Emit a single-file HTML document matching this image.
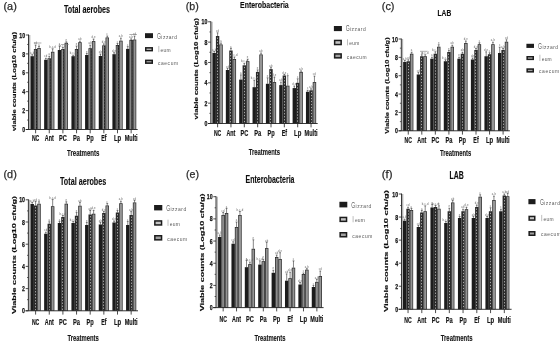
<!DOCTYPE html>
<html><head><meta charset="utf-8"><style>
html,body{margin:0;padding:0;background:#fff;width:560px;height:353px;overflow:hidden}
svg{display:block;will-change:transform}
text{font-family:"Liberation Sans",sans-serif}
.tag{font-size:11px;fill:#2a2a2a;stroke:#2a2a2a;stroke-width:0.25}
.title{font-weight:bold;font-size:9.6px;fill:#111;stroke:#111;stroke-width:0.15}
.cat{font-weight:bold;font-size:8.4px;fill:#151515;stroke:#151515;stroke-width:0.18}
.treat{font-weight:bold;font-size:9px;fill:#151515;stroke:#151515;stroke-width:0.12}
.ylab{font-weight:bold;font-size:6.6px;fill:#111;stroke:#111;stroke-width:0.15}
.tick{font-weight:bold;font-size:7.2px;fill:#111;stroke:#111;stroke-width:0.25}
.leg{font-size:4.9px;fill:#5a5a5a}
.legcap{font-size:8.6px;fill:#6a6a6a}
.sig{font-size:2.7px;fill:#666;text-anchor:middle;letter-spacing:0.2px}
</style></head><body>
<svg width="560" height="353" viewBox="0 0 560 353">
<defs><filter id="bl" x="0" y="0" width="560" height="353" filterUnits="userSpaceOnUse"><feGaussianBlur stdDeviation="0.28"/></filter></defs>
<rect width="560" height="353" fill="#fff"/>
<g filter="url(#bl)">
<text x="3.5" y="9.5" class="tag" textLength="13.3" lengthAdjust="spacingAndGlyphs">(a)</text>
<text x="64" y="12.6" class="title" style="font-size:10.3px" textLength="46" lengthAdjust="spacingAndGlyphs">Total aerobes</text>
<rect x="28.95" y="35" width="1.4" height="94.5" fill="#b4b4b4"/>
<rect x="30.5" y="56.2" width="3.4" height="73.3" fill="#1b1b1b"/>
<rect x="33.9" y="49" width="3.4" height="80.5" fill="#222"/>
<rect x="34.5" y="49.65" width="1.3" height="79.85" fill="#8c8c8c"/>
<line x1="36.4" y1="50.6" x2="36.4" y2="129.5" stroke="#5a5a5a" stroke-width="0.6" stroke-dasharray="1.2 1.8"/>
<rect x="37.3" y="48" width="3.4" height="81.5" fill="#222"/>
<rect x="37.95" y="48.65" width="2.1" height="80.85" fill="#959595"/>
<path d="M32.2 56.2V54.7M31.3 54.7H33.1" stroke="#222" stroke-width="0.55" fill="none"/>
<text x="32.2" y="53.8" class="sig">a,b</text>
<path d="M35.6 49V45M34.7 45H36.5" stroke="#222" stroke-width="0.55" fill="none"/>
<text x="35.6" y="44.1" class="sig">cd</text>
<path d="M39 48V46.5M38.1 46.5H39.9" stroke="#222" stroke-width="0.55" fill="none"/>
<text x="39" y="45.6" class="sig">a</text>
<line x1="35.6" y1="129.5" x2="35.6" y2="133.3" stroke="#222" stroke-width="0.8"/>
<text x="31.9" y="141.1" class="cat" textLength="7.4" lengthAdjust="spacingAndGlyphs">NC</text>
<rect x="44.15" y="59.8" width="3.4" height="69.7" fill="#1b1b1b"/>
<rect x="47.55" y="58.3" width="3.4" height="71.2" fill="#222"/>
<rect x="48.15" y="58.95" width="1.3" height="70.55" fill="#8c8c8c"/>
<line x1="50.05" y1="59.9" x2="50.05" y2="129.5" stroke="#5a5a5a" stroke-width="0.6" stroke-dasharray="1.2 1.8"/>
<rect x="50.95" y="51.8" width="3.4" height="77.7" fill="#222"/>
<rect x="51.6" y="52.45" width="2.1" height="77.05" fill="#959595"/>
<path d="M45.85 59.8V58.3M44.95 58.3H46.75" stroke="#222" stroke-width="0.55" fill="none"/>
<text x="45.85" y="57.4" class="sig">cd</text>
<path d="M49.25 58.3V56.3M48.35 56.3H50.15" stroke="#222" stroke-width="0.55" fill="none"/>
<text x="49.25" y="55.4" class="sig">a</text>
<path d="M52.65 51.8V48.8M51.75 48.8H53.55" stroke="#222" stroke-width="0.55" fill="none"/>
<text x="52.65" y="47.9" class="sig">b,c,d</text>
<line x1="49.25" y1="129.5" x2="49.25" y2="133.3" stroke="#222" stroke-width="0.8"/>
<text x="44.8" y="141.1" class="cat" textLength="8.9" lengthAdjust="spacingAndGlyphs">Ant</text>
<rect x="57.8" y="50" width="3.4" height="79.5" fill="#1b1b1b"/>
<rect x="61.2" y="49" width="3.4" height="80.5" fill="#222"/>
<rect x="61.8" y="49.65" width="1.3" height="79.85" fill="#8c8c8c"/>
<line x1="63.7" y1="50.6" x2="63.7" y2="129.5" stroke="#5a5a5a" stroke-width="0.6" stroke-dasharray="1.2 1.8"/>
<rect x="64.6" y="42.8" width="3.4" height="86.7" fill="#222"/>
<rect x="65.25" y="43.45" width="2.1" height="86.05" fill="#959595"/>
<path d="M59.5 50V46M58.6 46H60.4" stroke="#222" stroke-width="0.55" fill="none"/>
<text x="59.5" y="45.1" class="sig">a</text>
<path d="M62.9 49V47.5M62 47.5H63.8" stroke="#222" stroke-width="0.55" fill="none"/>
<text x="62.9" y="46.6" class="sig">b,c,d</text>
<path d="M66.3 42.8V41.8M65.4 41.8H67.2" stroke="#222" stroke-width="0.55" fill="none"/>
<text x="66.3" y="40.9" class="sig">e</text>
<line x1="62.9" y1="129.5" x2="62.9" y2="133.3" stroke="#222" stroke-width="0.8"/>
<text x="59" y="141.1" class="cat" textLength="7.8" lengthAdjust="spacingAndGlyphs">PC</text>
<rect x="71.45" y="56.2" width="3.4" height="73.3" fill="#1b1b1b"/>
<rect x="74.85" y="49" width="3.4" height="80.5" fill="#222"/>
<rect x="75.45" y="49.65" width="1.3" height="79.85" fill="#8c8c8c"/>
<line x1="77.35" y1="50.6" x2="77.35" y2="129.5" stroke="#5a5a5a" stroke-width="0.6" stroke-dasharray="1.2 1.8"/>
<rect x="78.25" y="42.2" width="3.4" height="87.3" fill="#222"/>
<rect x="78.9" y="42.85" width="2.1" height="86.65" fill="#959595"/>
<path d="M73.15 56.2V55.2M72.25 55.2H74.05" stroke="#222" stroke-width="0.55" fill="none"/>
<text x="73.15" y="54.3" class="sig">b,c,d</text>
<path d="M76.55 49V46M75.65 46H77.45" stroke="#222" stroke-width="0.55" fill="none"/>
<text x="76.55" y="45.1" class="sig">e</text>
<path d="M79.95 42.2V41.2M79.05 41.2H80.85" stroke="#222" stroke-width="0.55" fill="none"/>
<text x="79.95" y="40.3" class="sig">ab</text>
<line x1="76.55" y1="129.5" x2="76.55" y2="133.3" stroke="#222" stroke-width="0.8"/>
<text x="73.05" y="141.1" class="cat" textLength="7" lengthAdjust="spacingAndGlyphs">Pa</text>
<rect x="85.1" y="55" width="3.4" height="74.5" fill="#1b1b1b"/>
<rect x="88.5" y="48.2" width="3.4" height="81.3" fill="#222"/>
<rect x="89.1" y="48.85" width="1.3" height="80.65" fill="#8c8c8c"/>
<line x1="91" y1="49.8" x2="91" y2="129.5" stroke="#5a5a5a" stroke-width="0.6" stroke-dasharray="1.2 1.8"/>
<rect x="91.9" y="41.1" width="3.4" height="88.4" fill="#222"/>
<rect x="92.55" y="41.75" width="2.1" height="87.75" fill="#959595"/>
<path d="M86.8 55V53.5M85.9 53.5H87.7" stroke="#222" stroke-width="0.55" fill="none"/>
<text x="86.8" y="52.6" class="sig">e</text>
<path d="M90.2 48.2V45.2M89.3 45.2H91.1" stroke="#222" stroke-width="0.55" fill="none"/>
<text x="90.2" y="44.3" class="sig">ab</text>
<path d="M93.6 41.1V39.1M92.7 39.1H94.5" stroke="#222" stroke-width="0.55" fill="none"/>
<text x="93.6" y="38.2" class="sig">d,e</text>
<line x1="90.2" y1="129.5" x2="90.2" y2="133.3" stroke="#222" stroke-width="0.8"/>
<text x="86.6" y="141.1" class="cat" textLength="7.2" lengthAdjust="spacingAndGlyphs">Pp</text>
<rect x="98.75" y="56" width="3.4" height="73.5" fill="#1b1b1b"/>
<rect x="102.15" y="45.4" width="3.4" height="84.1" fill="#222"/>
<rect x="102.75" y="46.05" width="1.3" height="83.45" fill="#8c8c8c"/>
<line x1="104.65" y1="47" x2="104.65" y2="129.5" stroke="#5a5a5a" stroke-width="0.6" stroke-dasharray="1.2 1.8"/>
<rect x="105.55" y="37.5" width="3.4" height="92" fill="#222"/>
<rect x="106.2" y="38.15" width="2.1" height="91.35" fill="#959595"/>
<path d="M100.45 56V54M99.55 54H101.35" stroke="#222" stroke-width="0.55" fill="none"/>
<text x="100.45" y="53.1" class="sig">ab</text>
<path d="M103.85 45.4V43.9M102.95 43.9H104.75" stroke="#222" stroke-width="0.55" fill="none"/>
<text x="103.85" y="43" class="sig">d,e</text>
<path d="M107.25 37.5V36M106.35 36H108.15" stroke="#222" stroke-width="0.55" fill="none"/>
<text x="107.25" y="35.1" class="sig">c</text>
<line x1="103.85" y1="129.5" x2="103.85" y2="133.3" stroke="#222" stroke-width="0.8"/>
<text x="101.2" y="141.1" class="cat" textLength="5.3" lengthAdjust="spacingAndGlyphs">Ef</text>
<rect x="112.4" y="54.2" width="3.4" height="75.3" fill="#1b1b1b"/>
<rect x="115.8" y="45" width="3.4" height="84.5" fill="#222"/>
<rect x="116.4" y="45.65" width="1.3" height="83.85" fill="#8c8c8c"/>
<line x1="118.3" y1="46.6" x2="118.3" y2="129.5" stroke="#5a5a5a" stroke-width="0.6" stroke-dasharray="1.2 1.8"/>
<rect x="119.2" y="40.7" width="3.4" height="88.8" fill="#222"/>
<rect x="119.85" y="41.35" width="2.1" height="88.15" fill="#959595"/>
<path d="M114.1 54.2V52.7M113.2 52.7H115" stroke="#222" stroke-width="0.55" fill="none"/>
<text x="114.1" y="51.8" class="sig">d,e</text>
<path d="M117.5 45V43.5M116.6 43.5H118.4" stroke="#222" stroke-width="0.55" fill="none"/>
<text x="117.5" y="42.6" class="sig">c</text>
<path d="M120.9 40.7V38.2M120 38.2H121.8" stroke="#222" stroke-width="0.55" fill="none"/>
<text x="120.9" y="37.3" class="sig">a,b</text>
<line x1="117.5" y1="129.5" x2="117.5" y2="133.3" stroke="#222" stroke-width="0.8"/>
<text x="113.9" y="141.1" class="cat" textLength="7.2" lengthAdjust="spacingAndGlyphs">Lp</text>
<rect x="126.05" y="48.9" width="3.4" height="80.6" fill="#1b1b1b"/>
<rect x="129.45" y="39.9" width="3.4" height="89.6" fill="#222"/>
<rect x="130.05" y="40.55" width="1.3" height="88.95" fill="#8c8c8c"/>
<line x1="131.95" y1="41.5" x2="131.95" y2="129.5" stroke="#5a5a5a" stroke-width="0.6" stroke-dasharray="1.2 1.8"/>
<rect x="132.85" y="39.6" width="3.4" height="89.9" fill="#222"/>
<rect x="133.5" y="40.25" width="2.1" height="89.25" fill="#959595"/>
<path d="M127.75 48.9V46.6M126.85 46.6H128.65" stroke="#222" stroke-width="0.55" fill="none"/>
<text x="127.75" y="45.7" class="sig">c</text>
<path d="M131.15 39.9V38.9M130.25 38.9H132.05" stroke="#222" stroke-width="0.55" fill="none"/>
<text x="131.15" y="38" class="sig">a,b</text>
<path d="M134.55 39.6V36.1M133.65 36.1H135.45" stroke="#222" stroke-width="0.55" fill="none"/>
<text x="134.55" y="35.2" class="sig">cd</text>
<line x1="131.15" y1="129.5" x2="131.15" y2="133.3" stroke="#222" stroke-width="0.8"/>
<text x="124.65" y="141.1" class="cat" textLength="13" lengthAdjust="spacingAndGlyphs">Multi</text>
<line x1="33.8" y1="43" x2="41.4" y2="43" stroke="#777" stroke-width="0.6"/>
<line x1="61.1" y1="44.5" x2="68.7" y2="44.5" stroke="#777" stroke-width="0.6"/>
<line x1="129.35" y1="34.5" x2="136.95" y2="34.5" stroke="#777" stroke-width="0.6"/>
<line x1="28.5" y1="34.5" x2="28.5" y2="129.5" stroke="#222" stroke-width="0.9"/>
<line x1="25.8" y1="129.5" x2="137.7" y2="129.5" stroke="#222" stroke-width="0.9"/>
<line x1="25.8" y1="129.5" x2="28.5" y2="129.5" stroke="#222" stroke-width="0.8"/>
<text x="22.2" y="132.1" class="tick" textLength="2.9" lengthAdjust="spacingAndGlyphs">0</text>
<line x1="27.1" y1="120.05" x2="28.5" y2="120.05" stroke="#222" stroke-width="0.7"/>
<line x1="25.8" y1="110.6" x2="28.5" y2="110.6" stroke="#222" stroke-width="0.8"/>
<text x="22.2" y="113.2" class="tick" textLength="2.9" lengthAdjust="spacingAndGlyphs">2</text>
<line x1="27.1" y1="101.15" x2="28.5" y2="101.15" stroke="#222" stroke-width="0.7"/>
<line x1="25.8" y1="91.7" x2="28.5" y2="91.7" stroke="#222" stroke-width="0.8"/>
<text x="22.2" y="94.3" class="tick" textLength="2.9" lengthAdjust="spacingAndGlyphs">4</text>
<line x1="27.1" y1="82.25" x2="28.5" y2="82.25" stroke="#222" stroke-width="0.7"/>
<line x1="25.8" y1="72.8" x2="28.5" y2="72.8" stroke="#222" stroke-width="0.8"/>
<text x="22.2" y="75.4" class="tick" textLength="2.9" lengthAdjust="spacingAndGlyphs">6</text>
<line x1="27.1" y1="63.35" x2="28.5" y2="63.35" stroke="#222" stroke-width="0.7"/>
<line x1="25.8" y1="53.9" x2="28.5" y2="53.9" stroke="#222" stroke-width="0.8"/>
<text x="22.2" y="56.5" class="tick" textLength="2.9" lengthAdjust="spacingAndGlyphs">8</text>
<line x1="27.1" y1="44.45" x2="28.5" y2="44.45" stroke="#222" stroke-width="0.7"/>
<line x1="25.8" y1="35" x2="28.5" y2="35" stroke="#222" stroke-width="0.8"/>
<text x="19.3" y="37.6" class="tick" textLength="5.8" lengthAdjust="spacingAndGlyphs">10</text>
<text x="67" y="155.5" class="treat" textLength="32.5" lengthAdjust="spacingAndGlyphs">Treatments</text>
<text transform="translate(15.6 131) rotate(-90)" x="0" y="0" class="ylab" style="font-size:5.8px" textLength="99" lengthAdjust="spacingAndGlyphs">viable counts (Log10 cfu/g)</text>
<rect x="145" y="33.2" width="8" height="4.9" fill="#1b1b1b"/>
<text x="157" y="38.55" class="legcap" textLength="4" lengthAdjust="spacingAndGlyphs">G</text>
<text x="161.3" y="38.55" class="leg" textLength="15.7" lengthAdjust="spacing">izzard</text>
<rect x="145" y="47.1" width="8" height="4.3" fill="#1b1b1b"/>
<rect x="146.5" y="48.6" width="5" height="1.3" fill="#c4c4c4"/>
<path d="M158.8 45.95V52.15" stroke="#8a8a8a" stroke-width="0.55"/>
<text x="160.6" y="52.15" class="leg" textLength="10" lengthAdjust="spacing">eum</text>
<rect x="145" y="59.6" width="8" height="4.3" fill="#1b1b1b"/>
<rect x="146.5" y="61.1" width="5" height="1.3" fill="#a0a0a0"/>
<text x="158" y="64.65" class="leg" textLength="20" lengthAdjust="spacing">caecum</text>
<text x="185.8" y="9.5" class="tag" textLength="13" lengthAdjust="spacingAndGlyphs">(b)</text>
<text x="240" y="8" class="title" style="font-size:9.2px" textLength="48.75" lengthAdjust="spacingAndGlyphs">Enterobacteria</text>
<rect x="211.25" y="21.8" width="1.4" height="101.7" fill="#b4b4b4"/>
<rect x="212.5" y="53" width="3.4" height="70.5" fill="#1b1b1b"/>
<rect x="215.9" y="36" width="3.4" height="87.5" fill="#2a2a2a"/>
<line x1="217.5" y1="37.6" x2="217.5" y2="123.5" stroke="#b8b8b8" stroke-width="0.9" stroke-dasharray="1.3 1.7"/>
<rect x="219.3" y="44.5" width="3.4" height="79" fill="#222"/>
<rect x="219.95" y="45.15" width="2.1" height="78.35" fill="#959595"/>
<path d="M214.2 53V51.5M213.3 51.5H215.1" stroke="#222" stroke-width="0.55" fill="none"/>
<text x="214.2" y="50.6" class="sig">a,b</text>
<path d="M217.6 36V32.8M216.7 32.8H218.5" stroke="#222" stroke-width="0.55" fill="none"/>
<text x="217.6" y="31.9" class="sig">cd</text>
<path d="M221 44.5V43M220.1 43H221.9" stroke="#222" stroke-width="0.55" fill="none"/>
<text x="221" y="42.1" class="sig">a</text>
<line x1="217.6" y1="123.5" x2="217.6" y2="127.3" stroke="#222" stroke-width="0.8"/>
<text x="213.9" y="136.4" class="cat" textLength="7.4" lengthAdjust="spacingAndGlyphs">NC</text>
<rect x="225.85" y="70" width="3.4" height="53.5" fill="#1b1b1b"/>
<rect x="229.25" y="50.5" width="3.4" height="73" fill="#2a2a2a"/>
<line x1="230.5" y1="52.1" x2="230.5" y2="123.5" stroke="#b8b8b8" stroke-width="0.9" stroke-dasharray="1.3 1.7"/>
<rect x="232.65" y="59" width="3.4" height="64.5" fill="#222"/>
<rect x="233.3" y="59.65" width="2.1" height="63.85" fill="#959595"/>
<path d="M227.55 70V68.5M226.65 68.5H228.45" stroke="#222" stroke-width="0.55" fill="none"/>
<text x="227.55" y="67.6" class="sig">cd</text>
<path d="M230.95 50.5V48.5M230.05 48.5H231.85" stroke="#222" stroke-width="0.55" fill="none"/>
<text x="230.95" y="47.6" class="sig">a</text>
<path d="M234.35 59V57M233.45 57H235.25" stroke="#222" stroke-width="0.55" fill="none"/>
<text x="234.35" y="56.1" class="sig">b,c,d</text>
<line x1="230.95" y1="123.5" x2="230.95" y2="127.3" stroke="#222" stroke-width="0.8"/>
<text x="226.5" y="136.4" class="cat" textLength="8.9" lengthAdjust="spacingAndGlyphs">Ant</text>
<rect x="239.2" y="79.6" width="3.4" height="43.9" fill="#1b1b1b"/>
<rect x="242.6" y="65.3" width="3.4" height="58.2" fill="#2a2a2a"/>
<line x1="244.5" y1="66.9" x2="244.5" y2="123.5" stroke="#b8b8b8" stroke-width="0.9" stroke-dasharray="1.3 1.7"/>
<rect x="246" y="61.2" width="3.4" height="62.3" fill="#222"/>
<rect x="246.65" y="61.85" width="2.1" height="61.65" fill="#959595"/>
<path d="M240.9 79.6V74.9M240 74.9H241.8" stroke="#222" stroke-width="0.55" fill="none"/>
<text x="240.9" y="74" class="sig">a</text>
<path d="M244.3 65.3V63.3M243.4 63.3H245.2" stroke="#222" stroke-width="0.55" fill="none"/>
<text x="244.3" y="62.4" class="sig">b,c,d</text>
<path d="M247.7 61.2V59.2M246.8 59.2H248.6" stroke="#222" stroke-width="0.55" fill="none"/>
<text x="247.7" y="58.3" class="sig">e</text>
<line x1="244.3" y1="123.5" x2="244.3" y2="127.3" stroke="#222" stroke-width="0.8"/>
<text x="240.4" y="136.4" class="cat" textLength="7.8" lengthAdjust="spacingAndGlyphs">PC</text>
<rect x="252.55" y="87.2" width="3.4" height="36.3" fill="#1b1b1b"/>
<rect x="255.95" y="71.9" width="3.4" height="51.6" fill="#2a2a2a"/>
<line x1="257.5" y1="73.5" x2="257.5" y2="123.5" stroke="#b8b8b8" stroke-width="0.9" stroke-dasharray="1.3 1.7"/>
<rect x="259.35" y="54.5" width="3.4" height="69" fill="#222"/>
<rect x="260" y="55.15" width="2.1" height="68.35" fill="#959595"/>
<path d="M254.25 87.2V80.2M253.35 80.2H255.15" stroke="#222" stroke-width="0.55" fill="none"/>
<text x="254.25" y="79.3" class="sig">b,c,d</text>
<path d="M257.65 71.9V69.9M256.75 69.9H258.55" stroke="#222" stroke-width="0.55" fill="none"/>
<text x="257.65" y="69" class="sig">e</text>
<path d="M261.05 54.5V53M260.15 53H261.95" stroke="#222" stroke-width="0.55" fill="none"/>
<text x="261.05" y="52.1" class="sig">ab</text>
<line x1="257.65" y1="123.5" x2="257.65" y2="127.3" stroke="#222" stroke-width="0.8"/>
<text x="254.15" y="136.4" class="cat" textLength="7" lengthAdjust="spacingAndGlyphs">Pa</text>
<rect x="265.9" y="83.8" width="3.4" height="39.7" fill="#1b1b1b"/>
<rect x="269.3" y="69.1" width="3.4" height="54.4" fill="#2a2a2a"/>
<line x1="270.5" y1="70.7" x2="270.5" y2="123.5" stroke="#b8b8b8" stroke-width="0.9" stroke-dasharray="1.3 1.7"/>
<rect x="272.7" y="82.1" width="3.4" height="41.4" fill="#222"/>
<rect x="273.35" y="82.75" width="2.1" height="40.75" fill="#959595"/>
<path d="M267.6 83.8V77.8M266.7 77.8H268.5" stroke="#222" stroke-width="0.55" fill="none"/>
<text x="267.6" y="76.9" class="sig">e</text>
<path d="M271 69.1V67.6M270.1 67.6H271.9" stroke="#222" stroke-width="0.55" fill="none"/>
<text x="271" y="66.7" class="sig">ab</text>
<path d="M274.4 82.1V77.1M273.5 77.1H275.3" stroke="#222" stroke-width="0.55" fill="none"/>
<text x="274.4" y="76.2" class="sig">d,e</text>
<line x1="271" y1="123.5" x2="271" y2="127.3" stroke="#222" stroke-width="0.8"/>
<text x="267.4" y="136.4" class="cat" textLength="7.2" lengthAdjust="spacingAndGlyphs">Pp</text>
<rect x="279.25" y="85.1" width="3.4" height="38.4" fill="#1b1b1b"/>
<rect x="282.65" y="75.5" width="3.4" height="48" fill="#2a2a2a"/>
<line x1="284.5" y1="77.1" x2="284.5" y2="123.5" stroke="#b8b8b8" stroke-width="0.9" stroke-dasharray="1.3 1.7"/>
<rect x="286.05" y="85.7" width="3.4" height="37.8" fill="#222"/>
<rect x="286.7" y="86.35" width="2.1" height="37.15" fill="#959595"/>
<path d="M280.95 85.1V82.1M280.05 82.1H281.85" stroke="#222" stroke-width="0.55" fill="none"/>
<text x="280.95" y="81.2" class="sig">ab</text>
<path d="M284.35 75.5V74.5M283.45 74.5H285.25" stroke="#222" stroke-width="0.55" fill="none"/>
<text x="284.35" y="73.6" class="sig">d,e</text>
<path d="M287.75 85.7V75.7M286.85 75.7H288.65" stroke="#222" stroke-width="0.55" fill="none"/>
<text x="287.75" y="74.8" class="sig">c</text>
<line x1="284.35" y1="123.5" x2="284.35" y2="127.3" stroke="#222" stroke-width="0.8"/>
<text x="281.7" y="136.4" class="cat" textLength="5.3" lengthAdjust="spacingAndGlyphs">Ef</text>
<rect x="292.6" y="88.1" width="3.4" height="35.4" fill="#1b1b1b"/>
<rect x="296" y="82.8" width="3.4" height="40.7" fill="#2a2a2a"/>
<line x1="297.5" y1="84.4" x2="297.5" y2="123.5" stroke="#b8b8b8" stroke-width="0.9" stroke-dasharray="1.3 1.7"/>
<rect x="299.4" y="71.9" width="3.4" height="51.6" fill="#222"/>
<rect x="300.05" y="72.55" width="2.1" height="50.95" fill="#959595"/>
<path d="M294.3 88.1V86.1M293.4 86.1H295.2" stroke="#222" stroke-width="0.55" fill="none"/>
<text x="294.3" y="85.2" class="sig">d,e</text>
<path d="M297.7 82.8V78.8M296.8 78.8H298.6" stroke="#222" stroke-width="0.55" fill="none"/>
<text x="297.7" y="77.9" class="sig">c</text>
<path d="M301.1 71.9V70.9M300.2 70.9H302" stroke="#222" stroke-width="0.55" fill="none"/>
<text x="301.1" y="70" class="sig">a,b</text>
<line x1="297.7" y1="123.5" x2="297.7" y2="127.3" stroke="#222" stroke-width="0.8"/>
<text x="294.1" y="136.4" class="cat" textLength="7.2" lengthAdjust="spacingAndGlyphs">Lp</text>
<rect x="305.95" y="91.8" width="3.4" height="31.7" fill="#1b1b1b"/>
<rect x="309.35" y="90.3" width="3.4" height="33.2" fill="#2a2a2a"/>
<line x1="311.5" y1="91.9" x2="311.5" y2="123.5" stroke="#b8b8b8" stroke-width="0.9" stroke-dasharray="1.3 1.7"/>
<rect x="312.75" y="82.1" width="3.4" height="41.4" fill="#222"/>
<rect x="313.4" y="82.75" width="2.1" height="40.75" fill="#959595"/>
<path d="M307.65 91.8V90.3M306.75 90.3H308.55" stroke="#222" stroke-width="0.55" fill="none"/>
<text x="307.65" y="89.4" class="sig">c</text>
<path d="M311.05 90.3V88.8M310.15 88.8H311.95" stroke="#222" stroke-width="0.55" fill="none"/>
<text x="311.05" y="87.9" class="sig">a,b</text>
<path d="M314.45 82.1V76.1M313.55 76.1H315.35" stroke="#222" stroke-width="0.55" fill="none"/>
<text x="314.45" y="75.2" class="sig">cd</text>
<line x1="311.05" y1="123.5" x2="311.05" y2="127.3" stroke="#222" stroke-width="0.8"/>
<text x="304.55" y="136.4" class="cat" textLength="13" lengthAdjust="spacingAndGlyphs">Multi</text>
<line x1="210.8" y1="21.3" x2="210.8" y2="123.5" stroke="#222" stroke-width="0.9"/>
<line x1="208" y1="123.5" x2="317.7" y2="123.5" stroke="#222" stroke-width="0.9"/>
<line x1="208.1" y1="123.5" x2="210.8" y2="123.5" stroke="#222" stroke-width="0.8"/>
<text x="204.5" y="126.1" class="tick" textLength="2.9" lengthAdjust="spacingAndGlyphs">0</text>
<line x1="209.4" y1="113.33" x2="210.8" y2="113.33" stroke="#222" stroke-width="0.7"/>
<line x1="208.1" y1="103.16" x2="210.8" y2="103.16" stroke="#222" stroke-width="0.8"/>
<text x="204.5" y="105.76" class="tick" textLength="2.9" lengthAdjust="spacingAndGlyphs">2</text>
<line x1="209.4" y1="92.99" x2="210.8" y2="92.99" stroke="#222" stroke-width="0.7"/>
<line x1="208.1" y1="82.82" x2="210.8" y2="82.82" stroke="#222" stroke-width="0.8"/>
<text x="204.5" y="85.42" class="tick" textLength="2.9" lengthAdjust="spacingAndGlyphs">4</text>
<line x1="209.4" y1="72.65" x2="210.8" y2="72.65" stroke="#222" stroke-width="0.7"/>
<line x1="208.1" y1="62.48" x2="210.8" y2="62.48" stroke="#222" stroke-width="0.8"/>
<text x="204.5" y="65.08" class="tick" textLength="2.9" lengthAdjust="spacingAndGlyphs">6</text>
<line x1="209.4" y1="52.31" x2="210.8" y2="52.31" stroke="#222" stroke-width="0.7"/>
<line x1="208.1" y1="42.14" x2="210.8" y2="42.14" stroke="#222" stroke-width="0.8"/>
<text x="204.5" y="44.74" class="tick" textLength="2.9" lengthAdjust="spacingAndGlyphs">8</text>
<line x1="209.4" y1="31.97" x2="210.8" y2="31.97" stroke="#222" stroke-width="0.7"/>
<line x1="208.1" y1="21.8" x2="210.8" y2="21.8" stroke="#222" stroke-width="0.8"/>
<text x="201.6" y="24.4" class="tick" textLength="5.8" lengthAdjust="spacingAndGlyphs">10</text>
<text x="248.75" y="154.8" class="treat" textLength="31.25" lengthAdjust="spacingAndGlyphs">Treatments</text>
<text transform="translate(198.3 119.4) rotate(-90)" x="0" y="0" class="ylab" style="font-size:5.9px" textLength="101.3" lengthAdjust="spacingAndGlyphs">viable counts (Log10 cfu/g)</text>
<rect x="333.9" y="26" width="8" height="5.1" fill="#1b1b1b"/>
<text x="345.7" y="31.45" class="legcap" textLength="4" lengthAdjust="spacingAndGlyphs">G</text>
<text x="350" y="31.45" class="leg" textLength="15.7" lengthAdjust="spacing">izzard</text>
<rect x="333.9" y="39.7" width="8" height="5.6" fill="#1b1b1b"/>
<rect x="335.4" y="41.2" width="5" height="2.6" fill="#c4c4c4"/>
<path d="M347.5 39.2V45.4" stroke="#8a8a8a" stroke-width="0.55"/>
<text x="349.3" y="45.4" class="leg" textLength="10" lengthAdjust="spacing">eum</text>
<rect x="333.9" y="53.2" width="8" height="5.4" fill="#1b1b1b"/>
<rect x="335.4" y="54.7" width="5" height="2.4" fill="#a0a0a0"/>
<text x="346.7" y="58.8" class="leg" textLength="20" lengthAdjust="spacing">caecum</text>
<text x="381.8" y="9.6" class="tag" textLength="12.7" lengthAdjust="spacingAndGlyphs">(c)</text>
<text x="437.5" y="15.7" class="title" style="font-size:9.6px" textLength="13.75" lengthAdjust="spacingAndGlyphs">LAB</text>
<rect x="401.75" y="39" width="1.4" height="91.8" fill="#b4b4b4"/>
<rect x="403.15" y="62" width="3.4" height="68.8" fill="#1b1b1b"/>
<rect x="406.55" y="61.25" width="3.4" height="69.55" fill="#2a2a2a"/>
<line x1="408.5" y1="62.85" x2="408.5" y2="130.8" stroke="#b8b8b8" stroke-width="0.9" stroke-dasharray="1.3 1.7"/>
<rect x="409.95" y="53.75" width="3.4" height="77.05" fill="#222"/>
<rect x="410.6" y="54.4" width="2.1" height="76.4" fill="#959595"/>
<path d="M404.85 62V60.5M403.95 60.5H405.75" stroke="#222" stroke-width="0.55" fill="none"/>
<text x="404.85" y="59.6" class="sig">a,b</text>
<path d="M408.25 61.25V59.75M407.35 59.75H409.15" stroke="#222" stroke-width="0.55" fill="none"/>
<text x="408.25" y="58.85" class="sig">cd</text>
<path d="M411.65 53.75V52.25M410.75 52.25H412.55" stroke="#222" stroke-width="0.55" fill="none"/>
<text x="411.65" y="51.35" class="sig">a</text>
<line x1="408.25" y1="130.8" x2="408.25" y2="134.6" stroke="#222" stroke-width="0.8"/>
<text x="404.55" y="142.6" class="cat" textLength="7.4" lengthAdjust="spacingAndGlyphs">NC</text>
<rect x="416.7" y="74.5" width="3.4" height="56.3" fill="#1b1b1b"/>
<rect x="420.1" y="56.25" width="3.4" height="74.55" fill="#2a2a2a"/>
<line x1="421.5" y1="57.85" x2="421.5" y2="130.8" stroke="#b8b8b8" stroke-width="0.9" stroke-dasharray="1.3 1.7"/>
<rect x="423.5" y="56.25" width="3.4" height="74.55" fill="#222"/>
<rect x="424.15" y="56.9" width="2.1" height="73.9" fill="#959595"/>
<path d="M418.4 74.5V72.5M417.5 72.5H419.3" stroke="#222" stroke-width="0.55" fill="none"/>
<text x="418.4" y="71.6" class="sig">cd</text>
<path d="M421.8 56.25V54.75M420.9 54.75H422.7" stroke="#222" stroke-width="0.55" fill="none"/>
<text x="421.8" y="53.85" class="sig">a</text>
<path d="M425.2 56.25V54.75M424.3 54.75H426.1" stroke="#222" stroke-width="0.55" fill="none"/>
<text x="425.2" y="53.85" class="sig">b,c,d</text>
<line x1="421.8" y1="130.8" x2="421.8" y2="134.6" stroke="#222" stroke-width="0.8"/>
<text x="417.35" y="142.6" class="cat" textLength="8.9" lengthAdjust="spacingAndGlyphs">Ant</text>
<rect x="430.25" y="58.75" width="3.4" height="72.05" fill="#1b1b1b"/>
<rect x="433.65" y="53.75" width="3.4" height="77.05" fill="#2a2a2a"/>
<line x1="435.5" y1="55.35" x2="435.5" y2="130.8" stroke="#b8b8b8" stroke-width="0.9" stroke-dasharray="1.3 1.7"/>
<rect x="437.05" y="46.75" width="3.4" height="84.05" fill="#222"/>
<rect x="437.7" y="47.4" width="2.1" height="83.4" fill="#959595"/>
<path d="M431.95 58.75V57.25M431.05 57.25H432.85" stroke="#222" stroke-width="0.55" fill="none"/>
<text x="431.95" y="56.35" class="sig">a</text>
<path d="M435.35 53.75V51.75M434.45 51.75H436.25" stroke="#222" stroke-width="0.55" fill="none"/>
<text x="435.35" y="50.85" class="sig">b,c,d</text>
<path d="M438.75 46.75V44.75M437.85 44.75H439.65" stroke="#222" stroke-width="0.55" fill="none"/>
<text x="438.75" y="43.85" class="sig">e</text>
<line x1="435.35" y1="130.8" x2="435.35" y2="134.6" stroke="#222" stroke-width="0.8"/>
<text x="431.45" y="142.6" class="cat" textLength="7.8" lengthAdjust="spacingAndGlyphs">PC</text>
<rect x="443.8" y="61.25" width="3.4" height="69.55" fill="#1b1b1b"/>
<rect x="447.2" y="52" width="3.4" height="78.8" fill="#2a2a2a"/>
<line x1="448.5" y1="53.6" x2="448.5" y2="130.8" stroke="#b8b8b8" stroke-width="0.9" stroke-dasharray="1.3 1.7"/>
<rect x="450.6" y="46.75" width="3.4" height="84.05" fill="#222"/>
<rect x="451.25" y="47.4" width="2.1" height="83.4" fill="#959595"/>
<path d="M445.5 61.25V59.75M444.6 59.75H446.4" stroke="#222" stroke-width="0.55" fill="none"/>
<text x="445.5" y="58.85" class="sig">b,c,d</text>
<path d="M448.9 52V50.5M448 50.5H449.8" stroke="#222" stroke-width="0.55" fill="none"/>
<text x="448.9" y="49.6" class="sig">e</text>
<path d="M452.3 46.75V45.25M451.4 45.25H453.2" stroke="#222" stroke-width="0.55" fill="none"/>
<text x="452.3" y="44.35" class="sig">ab</text>
<line x1="448.9" y1="130.8" x2="448.9" y2="134.6" stroke="#222" stroke-width="0.8"/>
<text x="445.4" y="142.6" class="cat" textLength="7" lengthAdjust="spacingAndGlyphs">Pa</text>
<rect x="457.35" y="58.75" width="3.4" height="72.05" fill="#1b1b1b"/>
<rect x="460.75" y="53.75" width="3.4" height="77.05" fill="#2a2a2a"/>
<line x1="462.5" y1="55.35" x2="462.5" y2="130.8" stroke="#b8b8b8" stroke-width="0.9" stroke-dasharray="1.3 1.7"/>
<rect x="464.15" y="43" width="3.4" height="87.8" fill="#222"/>
<rect x="464.8" y="43.65" width="2.1" height="87.15" fill="#959595"/>
<path d="M459.05 58.75V57.25M458.15 57.25H459.95" stroke="#222" stroke-width="0.55" fill="none"/>
<text x="459.05" y="56.35" class="sig">e</text>
<path d="M462.45 53.75V52.25M461.55 52.25H463.35" stroke="#222" stroke-width="0.55" fill="none"/>
<text x="462.45" y="51.35" class="sig">ab</text>
<path d="M465.85 43V41M464.95 41H466.75" stroke="#222" stroke-width="0.55" fill="none"/>
<text x="465.85" y="40.1" class="sig">d,e</text>
<line x1="462.45" y1="130.8" x2="462.45" y2="134.6" stroke="#222" stroke-width="0.8"/>
<text x="458.85" y="142.6" class="cat" textLength="7.2" lengthAdjust="spacingAndGlyphs">Pp</text>
<rect x="470.9" y="59.5" width="3.4" height="71.3" fill="#1b1b1b"/>
<rect x="474.3" y="50" width="3.4" height="80.8" fill="#2a2a2a"/>
<line x1="475.5" y1="51.6" x2="475.5" y2="130.8" stroke="#b8b8b8" stroke-width="0.9" stroke-dasharray="1.3 1.7"/>
<rect x="477.7" y="44.25" width="3.4" height="86.55" fill="#222"/>
<rect x="478.35" y="44.9" width="2.1" height="85.9" fill="#959595"/>
<path d="M472.6 59.5V58M471.7 58H473.5" stroke="#222" stroke-width="0.55" fill="none"/>
<text x="472.6" y="57.1" class="sig">ab</text>
<path d="M476 50V48.5M475.1 48.5H476.9" stroke="#222" stroke-width="0.55" fill="none"/>
<text x="476" y="47.6" class="sig">d,e</text>
<path d="M479.4 44.25V42.75M478.5 42.75H480.3" stroke="#222" stroke-width="0.55" fill="none"/>
<text x="479.4" y="41.85" class="sig">c</text>
<line x1="476" y1="130.8" x2="476" y2="134.6" stroke="#222" stroke-width="0.8"/>
<text x="473.35" y="142.6" class="cat" textLength="5.3" lengthAdjust="spacingAndGlyphs">Ef</text>
<rect x="484.45" y="56.25" width="3.4" height="74.55" fill="#1b1b1b"/>
<rect x="487.85" y="54.25" width="3.4" height="76.55" fill="#2a2a2a"/>
<line x1="489.5" y1="55.85" x2="489.5" y2="130.8" stroke="#b8b8b8" stroke-width="0.9" stroke-dasharray="1.3 1.7"/>
<rect x="491.25" y="44.25" width="3.4" height="86.55" fill="#222"/>
<rect x="491.9" y="44.9" width="2.1" height="85.9" fill="#959595"/>
<path d="M486.15 56.25V51.85M485.25 51.85H487.05" stroke="#222" stroke-width="0.55" fill="none"/>
<text x="486.15" y="50.95" class="sig">d,e</text>
<path d="M489.55 54.25V52.75M488.65 52.75H490.45" stroke="#222" stroke-width="0.55" fill="none"/>
<text x="489.55" y="51.85" class="sig">c</text>
<path d="M492.95 44.25V42.25M492.05 42.25H493.85" stroke="#222" stroke-width="0.55" fill="none"/>
<text x="492.95" y="41.35" class="sig">a,b</text>
<line x1="489.55" y1="130.8" x2="489.55" y2="134.6" stroke="#222" stroke-width="0.8"/>
<text x="485.95" y="142.6" class="cat" textLength="7.2" lengthAdjust="spacingAndGlyphs">Lp</text>
<rect x="498" y="53" width="3.4" height="77.8" fill="#1b1b1b"/>
<rect x="501.4" y="50" width="3.4" height="80.8" fill="#2a2a2a"/>
<line x1="503.5" y1="51.6" x2="503.5" y2="130.8" stroke="#b8b8b8" stroke-width="0.9" stroke-dasharray="1.3 1.7"/>
<rect x="504.8" y="41.75" width="3.4" height="89.05" fill="#222"/>
<rect x="505.45" y="42.4" width="2.1" height="88.4" fill="#959595"/>
<path d="M499.7 53V47.2M498.8 47.2H500.6" stroke="#222" stroke-width="0.55" fill="none"/>
<text x="499.7" y="46.3" class="sig">c</text>
<path d="M503.1 50V48.5M502.2 48.5H504" stroke="#222" stroke-width="0.55" fill="none"/>
<text x="503.1" y="47.6" class="sig">a,b</text>
<path d="M506.5 41.75V39.75M505.6 39.75H507.4" stroke="#222" stroke-width="0.55" fill="none"/>
<text x="506.5" y="38.85" class="sig">cd</text>
<line x1="503.1" y1="130.8" x2="503.1" y2="134.6" stroke="#222" stroke-width="0.8"/>
<text x="496.6" y="142.6" class="cat" textLength="13" lengthAdjust="spacingAndGlyphs">Multi</text>
<line x1="420" y1="51.3" x2="427.6" y2="51.3" stroke="#777" stroke-width="0.6"/>
<line x1="401.3" y1="38.5" x2="401.3" y2="130.8" stroke="#222" stroke-width="0.9"/>
<line x1="398.5" y1="130.8" x2="509.9" y2="130.8" stroke="#222" stroke-width="0.9"/>
<line x1="398.6" y1="130.8" x2="401.3" y2="130.8" stroke="#222" stroke-width="0.8"/>
<text x="395" y="133.4" class="tick" textLength="2.9" lengthAdjust="spacingAndGlyphs">0</text>
<line x1="399.9" y1="121.62" x2="401.3" y2="121.62" stroke="#222" stroke-width="0.7"/>
<line x1="398.6" y1="112.44" x2="401.3" y2="112.44" stroke="#222" stroke-width="0.8"/>
<text x="395" y="115.04" class="tick" textLength="2.9" lengthAdjust="spacingAndGlyphs">2</text>
<line x1="399.9" y1="103.26" x2="401.3" y2="103.26" stroke="#222" stroke-width="0.7"/>
<line x1="398.6" y1="94.08" x2="401.3" y2="94.08" stroke="#222" stroke-width="0.8"/>
<text x="395" y="96.68" class="tick" textLength="2.9" lengthAdjust="spacingAndGlyphs">4</text>
<line x1="399.9" y1="84.9" x2="401.3" y2="84.9" stroke="#222" stroke-width="0.7"/>
<line x1="398.6" y1="75.72" x2="401.3" y2="75.72" stroke="#222" stroke-width="0.8"/>
<text x="395" y="78.32" class="tick" textLength="2.9" lengthAdjust="spacingAndGlyphs">6</text>
<line x1="399.9" y1="66.54" x2="401.3" y2="66.54" stroke="#222" stroke-width="0.7"/>
<line x1="398.6" y1="57.36" x2="401.3" y2="57.36" stroke="#222" stroke-width="0.8"/>
<text x="395" y="59.96" class="tick" textLength="2.9" lengthAdjust="spacingAndGlyphs">8</text>
<line x1="399.9" y1="48.18" x2="401.3" y2="48.18" stroke="#222" stroke-width="0.7"/>
<line x1="398.6" y1="39" x2="401.3" y2="39" stroke="#222" stroke-width="0.8"/>
<text x="392.1" y="41.6" class="tick" textLength="5.8" lengthAdjust="spacingAndGlyphs">10</text>
<text x="440" y="156" class="treat" textLength="31.25" lengthAdjust="spacingAndGlyphs">Treatments</text>
<text transform="translate(389.2 133.7) rotate(-90)" x="0" y="0" class="ylab" style="font-size:5.8px" textLength="96.3" lengthAdjust="spacingAndGlyphs">Viable counts (Log10 cfu/g)</text>
<rect x="526.4" y="43.8" width="7.6" height="4.1" fill="#1b1b1b"/>
<text x="538.1" y="48.75" class="legcap" textLength="4" lengthAdjust="spacingAndGlyphs">G</text>
<text x="542.4" y="48.75" class="leg" textLength="15.7" lengthAdjust="spacing">izzard</text>
<rect x="526.4" y="56" width="7.6" height="4.1" fill="#1b1b1b"/>
<rect x="527.9" y="57.5" width="4.6" height="1.1" fill="#c4c4c4"/>
<path d="M539.9 54.75V60.95" stroke="#8a8a8a" stroke-width="0.55"/>
<text x="541.7" y="60.95" class="leg" textLength="10" lengthAdjust="spacing">eum</text>
<rect x="526.4" y="68.3" width="7.6" height="4.3" fill="#1b1b1b"/>
<rect x="527.9" y="69.8" width="4.6" height="1.3" fill="#a0a0a0"/>
<text x="539.1" y="73.35" class="leg" textLength="20" lengthAdjust="spacing">caecum</text>
<text x="3.5" y="178.2" class="tag" textLength="13.3" lengthAdjust="spacingAndGlyphs">(d)</text>
<text x="60" y="185.4" class="title" style="font-size:10.8px" textLength="46.25" lengthAdjust="spacingAndGlyphs">Total aerobes</text>
<rect x="28.85" y="199.8" width="1.4" height="111" fill="#b4b4b4"/>
<rect x="30.5" y="204" width="3.4" height="106.8" fill="#1b1b1b"/>
<rect x="33.9" y="205.5" width="3.4" height="105.3" fill="#2a2a2a"/>
<line x1="35.5" y1="207.1" x2="35.5" y2="310.8" stroke="#b8b8b8" stroke-width="0.9" stroke-dasharray="1.3 1.7"/>
<rect x="37.3" y="203.75" width="3.4" height="107.05" fill="#222"/>
<rect x="37.95" y="204.4" width="2.1" height="106.4" fill="#959595"/>
<path d="M32.2 204V202.5M31.3 202.5H33.1" stroke="#222" stroke-width="0.55" fill="none"/>
<text x="32.2" y="201.6" class="sig">a,b</text>
<path d="M35.6 205.5V201.5M34.7 201.5H36.5" stroke="#222" stroke-width="0.55" fill="none"/>
<text x="35.6" y="200.6" class="sig">cd</text>
<path d="M39 203.75V201.75M38.1 201.75H39.9" stroke="#222" stroke-width="0.55" fill="none"/>
<text x="39" y="200.85" class="sig">a</text>
<line x1="35.6" y1="310.8" x2="35.6" y2="314.6" stroke="#222" stroke-width="0.8"/>
<text x="31.9" y="324.5" class="cat" textLength="7.4" lengthAdjust="spacingAndGlyphs">NC</text>
<rect x="44.15" y="233.75" width="3.4" height="77.05" fill="#1b1b1b"/>
<rect x="47.55" y="223.75" width="3.4" height="87.05" fill="#2a2a2a"/>
<line x1="49.5" y1="225.35" x2="49.5" y2="310.8" stroke="#b8b8b8" stroke-width="0.9" stroke-dasharray="1.3 1.7"/>
<rect x="50.95" y="206.25" width="3.4" height="104.55" fill="#222"/>
<rect x="51.6" y="206.9" width="2.1" height="103.9" fill="#959595"/>
<path d="M45.85 233.75V232.25M44.95 232.25H46.75" stroke="#222" stroke-width="0.55" fill="none"/>
<text x="45.85" y="231.35" class="sig">cd</text>
<path d="M49.25 223.75V221.75M48.35 221.75H50.15" stroke="#222" stroke-width="0.55" fill="none"/>
<text x="49.25" y="220.85" class="sig">a</text>
<path d="M52.65 206.25V199.55M51.75 199.55H53.55" stroke="#222" stroke-width="0.55" fill="none"/>
<text x="52.65" y="198.65" class="sig">b,c,d</text>
<line x1="49.25" y1="310.8" x2="49.25" y2="314.6" stroke="#222" stroke-width="0.8"/>
<text x="44.8" y="324.5" class="cat" textLength="8.9" lengthAdjust="spacingAndGlyphs">Ant</text>
<rect x="57.8" y="223" width="3.4" height="87.8" fill="#1b1b1b"/>
<rect x="61.2" y="217" width="3.4" height="93.8" fill="#2a2a2a"/>
<line x1="62.5" y1="218.6" x2="62.5" y2="310.8" stroke="#b8b8b8" stroke-width="0.9" stroke-dasharray="1.3 1.7"/>
<rect x="64.6" y="203.75" width="3.4" height="107.05" fill="#222"/>
<rect x="65.25" y="204.4" width="2.1" height="106.4" fill="#959595"/>
<path d="M59.5 223V221.5M58.6 221.5H60.4" stroke="#222" stroke-width="0.55" fill="none"/>
<text x="59.5" y="220.6" class="sig">a</text>
<path d="M62.9 217V215.5M62 215.5H63.8" stroke="#222" stroke-width="0.55" fill="none"/>
<text x="62.9" y="214.6" class="sig">b,c,d</text>
<path d="M66.3 203.75V201.75M65.4 201.75H67.2" stroke="#222" stroke-width="0.55" fill="none"/>
<text x="66.3" y="200.85" class="sig">e</text>
<line x1="62.9" y1="310.8" x2="62.9" y2="314.6" stroke="#222" stroke-width="0.8"/>
<text x="59" y="324.5" class="cat" textLength="7.8" lengthAdjust="spacingAndGlyphs">PC</text>
<rect x="71.45" y="223" width="3.4" height="87.8" fill="#1b1b1b"/>
<rect x="74.85" y="215.75" width="3.4" height="95.05" fill="#2a2a2a"/>
<line x1="76.5" y1="217.35" x2="76.5" y2="310.8" stroke="#b8b8b8" stroke-width="0.9" stroke-dasharray="1.3 1.7"/>
<rect x="78.25" y="205.75" width="3.4" height="105.05" fill="#222"/>
<rect x="78.9" y="206.4" width="2.1" height="104.4" fill="#959595"/>
<path d="M73.15 223V221.5M72.25 221.5H74.05" stroke="#222" stroke-width="0.55" fill="none"/>
<text x="73.15" y="220.6" class="sig">b,c,d</text>
<path d="M76.55 215.75V212.55M75.65 212.55H77.45" stroke="#222" stroke-width="0.55" fill="none"/>
<text x="76.55" y="211.65" class="sig">e</text>
<path d="M79.95 205.75V202.45M79.05 202.45H80.85" stroke="#222" stroke-width="0.55" fill="none"/>
<text x="79.95" y="201.55" class="sig">ab</text>
<line x1="76.55" y1="310.8" x2="76.55" y2="314.6" stroke="#222" stroke-width="0.8"/>
<text x="73.05" y="324.5" class="cat" textLength="7" lengthAdjust="spacingAndGlyphs">Pa</text>
<rect x="85.1" y="225" width="3.4" height="85.8" fill="#1b1b1b"/>
<rect x="88.5" y="214.5" width="3.4" height="96.3" fill="#2a2a2a"/>
<line x1="90.5" y1="216.1" x2="90.5" y2="310.8" stroke="#b8b8b8" stroke-width="0.9" stroke-dasharray="1.3 1.7"/>
<rect x="91.9" y="213.75" width="3.4" height="97.05" fill="#222"/>
<rect x="92.55" y="214.4" width="2.1" height="96.4" fill="#959595"/>
<path d="M86.8 225V222.5M85.9 222.5H87.7" stroke="#222" stroke-width="0.55" fill="none"/>
<text x="86.8" y="221.6" class="sig">e</text>
<path d="M90.2 214.5V210.5M89.3 210.5H91.1" stroke="#222" stroke-width="0.55" fill="none"/>
<text x="90.2" y="209.6" class="sig">ab</text>
<path d="M93.6 213.75V210.35M92.7 210.35H94.5" stroke="#222" stroke-width="0.55" fill="none"/>
<text x="93.6" y="209.45" class="sig">d,e</text>
<line x1="90.2" y1="310.8" x2="90.2" y2="314.6" stroke="#222" stroke-width="0.8"/>
<text x="86.6" y="324.5" class="cat" textLength="7.2" lengthAdjust="spacingAndGlyphs">Pp</text>
<rect x="98.75" y="224.5" width="3.4" height="86.3" fill="#1b1b1b"/>
<rect x="102.15" y="213" width="3.4" height="97.8" fill="#2a2a2a"/>
<line x1="103.5" y1="214.6" x2="103.5" y2="310.8" stroke="#b8b8b8" stroke-width="0.9" stroke-dasharray="1.3 1.7"/>
<rect x="105.55" y="205.5" width="3.4" height="105.3" fill="#222"/>
<rect x="106.2" y="206.15" width="2.1" height="104.65" fill="#959595"/>
<path d="M100.45 224.5V222.5M99.55 222.5H101.35" stroke="#222" stroke-width="0.55" fill="none"/>
<text x="100.45" y="221.6" class="sig">ab</text>
<path d="M103.85 213V211.5M102.95 211.5H104.75" stroke="#222" stroke-width="0.55" fill="none"/>
<text x="103.85" y="210.6" class="sig">d,e</text>
<path d="M107.25 205.5V203.5M106.35 203.5H108.15" stroke="#222" stroke-width="0.55" fill="none"/>
<text x="107.25" y="202.6" class="sig">c</text>
<line x1="103.85" y1="310.8" x2="103.85" y2="314.6" stroke="#222" stroke-width="0.8"/>
<text x="101.2" y="324.5" class="cat" textLength="5.3" lengthAdjust="spacingAndGlyphs">Ef</text>
<rect x="112.4" y="222.5" width="3.4" height="88.3" fill="#1b1b1b"/>
<rect x="115.8" y="212.5" width="3.4" height="98.3" fill="#2a2a2a"/>
<line x1="117.5" y1="214.1" x2="117.5" y2="310.8" stroke="#b8b8b8" stroke-width="0.9" stroke-dasharray="1.3 1.7"/>
<rect x="119.2" y="203.25" width="3.4" height="107.55" fill="#222"/>
<rect x="119.85" y="203.9" width="2.1" height="106.9" fill="#959595"/>
<path d="M114.1 222.5V221M113.2 221H115" stroke="#222" stroke-width="0.55" fill="none"/>
<text x="114.1" y="220.1" class="sig">d,e</text>
<path d="M117.5 212.5V210.5M116.6 210.5H118.4" stroke="#222" stroke-width="0.55" fill="none"/>
<text x="117.5" y="209.6" class="sig">c</text>
<path d="M120.9 203.25V201.25M120 201.25H121.8" stroke="#222" stroke-width="0.55" fill="none"/>
<text x="120.9" y="200.35" class="sig">a,b</text>
<line x1="117.5" y1="310.8" x2="117.5" y2="314.6" stroke="#222" stroke-width="0.8"/>
<text x="113.9" y="324.5" class="cat" textLength="7.2" lengthAdjust="spacingAndGlyphs">Lp</text>
<rect x="126.05" y="225" width="3.4" height="85.8" fill="#1b1b1b"/>
<rect x="129.45" y="215" width="3.4" height="95.8" fill="#2a2a2a"/>
<line x1="131.5" y1="216.6" x2="131.5" y2="310.8" stroke="#b8b8b8" stroke-width="0.9" stroke-dasharray="1.3 1.7"/>
<rect x="132.85" y="202.5" width="3.4" height="108.3" fill="#222"/>
<rect x="133.5" y="203.15" width="2.1" height="107.65" fill="#959595"/>
<path d="M127.75 225V221.4M126.85 221.4H128.65" stroke="#222" stroke-width="0.55" fill="none"/>
<text x="127.75" y="220.5" class="sig">c</text>
<path d="M131.15 215V211.6M130.25 211.6H132.05" stroke="#222" stroke-width="0.55" fill="none"/>
<text x="131.15" y="210.7" class="sig">a,b</text>
<path d="M134.55 202.5V200.5M133.65 200.5H135.45" stroke="#222" stroke-width="0.55" fill="none"/>
<text x="134.55" y="199.6" class="sig">cd</text>
<line x1="131.15" y1="310.8" x2="131.15" y2="314.6" stroke="#222" stroke-width="0.8"/>
<text x="124.65" y="324.5" class="cat" textLength="13" lengthAdjust="spacingAndGlyphs">Multi</text>
<line x1="28.4" y1="199.3" x2="28.4" y2="310.8" stroke="#222" stroke-width="0.9"/>
<line x1="25.5" y1="310.8" x2="138" y2="310.8" stroke="#222" stroke-width="0.9"/>
<line x1="25.7" y1="310.8" x2="28.4" y2="310.8" stroke="#222" stroke-width="0.8"/>
<text x="22.1" y="313.4" class="tick" textLength="2.9" lengthAdjust="spacingAndGlyphs">0</text>
<line x1="27" y1="299.7" x2="28.4" y2="299.7" stroke="#222" stroke-width="0.7"/>
<line x1="25.7" y1="288.6" x2="28.4" y2="288.6" stroke="#222" stroke-width="0.8"/>
<text x="22.1" y="291.2" class="tick" textLength="2.9" lengthAdjust="spacingAndGlyphs">2</text>
<line x1="27" y1="277.5" x2="28.4" y2="277.5" stroke="#222" stroke-width="0.7"/>
<line x1="25.7" y1="266.4" x2="28.4" y2="266.4" stroke="#222" stroke-width="0.8"/>
<text x="22.1" y="269" class="tick" textLength="2.9" lengthAdjust="spacingAndGlyphs">4</text>
<line x1="27" y1="255.3" x2="28.4" y2="255.3" stroke="#222" stroke-width="0.7"/>
<line x1="25.7" y1="244.2" x2="28.4" y2="244.2" stroke="#222" stroke-width="0.8"/>
<text x="22.1" y="246.8" class="tick" textLength="2.9" lengthAdjust="spacingAndGlyphs">6</text>
<line x1="27" y1="233.1" x2="28.4" y2="233.1" stroke="#222" stroke-width="0.7"/>
<line x1="25.7" y1="222" x2="28.4" y2="222" stroke="#222" stroke-width="0.8"/>
<text x="22.1" y="224.6" class="tick" textLength="2.9" lengthAdjust="spacingAndGlyphs">8</text>
<line x1="27" y1="210.9" x2="28.4" y2="210.9" stroke="#222" stroke-width="0.7"/>
<line x1="25.7" y1="199.8" x2="28.4" y2="199.8" stroke="#222" stroke-width="0.8"/>
<text x="19.2" y="202.4" class="tick" textLength="5.8" lengthAdjust="spacingAndGlyphs">10</text>
<text x="67.5" y="340.5" class="treat" textLength="31.25" lengthAdjust="spacingAndGlyphs">Treatments</text>
<text transform="translate(15.7 314.1) rotate(-90)" x="0" y="0" class="ylab" style="font-size:6.0px" textLength="118.2" lengthAdjust="spacingAndGlyphs">Viable counts (Log10 cfu/g)</text>
<rect x="154.1" y="205" width="8.2" height="5.4" fill="#1b1b1b"/>
<text x="166.2" y="210.6" class="legcap" textLength="4" lengthAdjust="spacingAndGlyphs">G</text>
<text x="170.5" y="210.6" class="leg" textLength="15.7" lengthAdjust="spacing">izzard</text>
<rect x="154.1" y="220.2" width="8.2" height="5.5" fill="#1b1b1b"/>
<rect x="155.6" y="221.7" width="5.2" height="2.5" fill="#c4c4c4"/>
<path d="M168 219.65V225.85" stroke="#8a8a8a" stroke-width="0.55"/>
<text x="169.8" y="225.85" class="leg" textLength="10" lengthAdjust="spacing">eum</text>
<rect x="154.1" y="235" width="8.2" height="5.6" fill="#1b1b1b"/>
<rect x="155.6" y="236.5" width="5.2" height="2.6" fill="#a0a0a0"/>
<text x="167.2" y="240.7" class="leg" textLength="20" lengthAdjust="spacing">caecum</text>
<text x="186" y="178.2" class="tag" textLength="13" lengthAdjust="spacingAndGlyphs">(e)</text>
<text x="245.5" y="182.8" class="title" style="font-size:10.9px" textLength="49" lengthAdjust="spacingAndGlyphs">Enterobacteria</text>
<rect x="216.45" y="196.7" width="1.4" height="110.9" fill="#b4b4b4"/>
<rect x="218.06" y="237" width="3.4" height="70.6" fill="#1b1b1b"/>
<rect x="221.46" y="215" width="3.4" height="92.6" fill="#222"/>
<rect x="222.11" y="215.65" width="2.1" height="91.95" fill="#8c8c8c"/>
<rect x="224.86" y="213" width="3.4" height="94.6" fill="#222"/>
<rect x="225.51" y="213.65" width="2.1" height="93.95" fill="#959595"/>
<path d="M219.76 237V235M218.86 235H220.66" stroke="#222" stroke-width="0.55" fill="none"/>
<text x="219.76" y="234.1" class="sig">a,b</text>
<path d="M223.16 215V212.5M222.26 212.5H224.06" stroke="#222" stroke-width="0.55" fill="none"/>
<text x="223.16" y="211.6" class="sig">cd</text>
<path d="M226.56 213V208.5M225.66 208.5H227.46" stroke="#222" stroke-width="0.55" fill="none"/>
<text x="226.56" y="207.6" class="sig">a</text>
<line x1="223.16" y1="307.6" x2="223.16" y2="311.4" stroke="#222" stroke-width="0.8"/>
<text x="219.46" y="321.6" class="cat" textLength="7.4" lengthAdjust="spacingAndGlyphs">NC</text>
<rect x="231.44" y="243.75" width="3.4" height="63.85" fill="#1b1b1b"/>
<rect x="234.84" y="227" width="3.4" height="80.6" fill="#222"/>
<rect x="235.5" y="227.65" width="2.1" height="79.95" fill="#8c8c8c"/>
<rect x="238.25" y="215" width="3.4" height="92.6" fill="#222"/>
<rect x="238.9" y="215.65" width="2.1" height="91.95" fill="#959595"/>
<path d="M233.14 243.75V241.75M232.24 241.75H234.04" stroke="#222" stroke-width="0.55" fill="none"/>
<text x="233.14" y="240.85" class="sig">cd</text>
<path d="M236.54 227V222M235.64 222H237.44" stroke="#222" stroke-width="0.55" fill="none"/>
<text x="236.54" y="221.1" class="sig">a</text>
<path d="M239.94 215V211.5M239.04 211.5H240.84" stroke="#222" stroke-width="0.55" fill="none"/>
<text x="239.94" y="210.6" class="sig">b,c,d</text>
<line x1="236.54" y1="307.6" x2="236.54" y2="311.4" stroke="#222" stroke-width="0.8"/>
<text x="232.09" y="321.6" class="cat" textLength="8.9" lengthAdjust="spacingAndGlyphs">Ant</text>
<rect x="244.83" y="267.2" width="3.4" height="40.4" fill="#1b1b1b"/>
<rect x="248.23" y="264.1" width="3.4" height="43.5" fill="#222"/>
<rect x="248.88" y="264.75" width="2.1" height="42.85" fill="#8c8c8c"/>
<rect x="251.63" y="248.8" width="3.4" height="58.8" fill="#222"/>
<rect x="252.28" y="249.45" width="2.1" height="58.15" fill="#959595"/>
<path d="M246.53 267.2V260.5M245.63 260.5H247.43" stroke="#222" stroke-width="0.55" fill="none"/>
<text x="246.53" y="259.6" class="sig">a</text>
<path d="M249.93 264.1V262.1M249.03 262.1H250.83" stroke="#222" stroke-width="0.55" fill="none"/>
<text x="249.93" y="261.2" class="sig">b,c,d</text>
<path d="M253.33 248.8V239.8M252.43 239.8H254.23" stroke="#222" stroke-width="0.55" fill="none"/>
<text x="253.33" y="238.9" class="sig">e</text>
<line x1="249.93" y1="307.6" x2="249.93" y2="311.4" stroke="#222" stroke-width="0.8"/>
<text x="246.03" y="321.6" class="cat" textLength="7.8" lengthAdjust="spacingAndGlyphs">PC</text>
<rect x="258.21" y="264.6" width="3.4" height="43" fill="#1b1b1b"/>
<rect x="261.61" y="261.2" width="3.4" height="46.4" fill="#222"/>
<rect x="262.26" y="261.85" width="2.1" height="45.75" fill="#8c8c8c"/>
<rect x="265.01" y="248.1" width="3.4" height="59.5" fill="#222"/>
<rect x="265.66" y="248.75" width="2.1" height="58.85" fill="#959595"/>
<path d="M259.91 264.6V260.8M259.01 260.8H260.81" stroke="#222" stroke-width="0.55" fill="none"/>
<text x="259.91" y="259.9" class="sig">b,c,d</text>
<path d="M263.31 261.2V259.2M262.41 259.2H264.21" stroke="#222" stroke-width="0.55" fill="none"/>
<text x="263.31" y="258.3" class="sig">e</text>
<path d="M266.71 248.1V242.4M265.81 242.4H267.61" stroke="#222" stroke-width="0.55" fill="none"/>
<text x="266.71" y="241.5" class="sig">ab</text>
<line x1="263.31" y1="307.6" x2="263.31" y2="311.4" stroke="#222" stroke-width="0.8"/>
<text x="259.81" y="321.6" class="cat" textLength="7" lengthAdjust="spacingAndGlyphs">Pa</text>
<rect x="271.6" y="272.8" width="3.4" height="34.8" fill="#1b1b1b"/>
<rect x="275" y="257" width="3.4" height="50.6" fill="#222"/>
<rect x="275.65" y="257.65" width="2.1" height="49.95" fill="#8c8c8c"/>
<rect x="278.4" y="259" width="3.4" height="48.6" fill="#222"/>
<rect x="279.05" y="259.65" width="2.1" height="47.95" fill="#959595"/>
<path d="M273.3 272.8V270.3M272.4 270.3H274.2" stroke="#222" stroke-width="0.55" fill="none"/>
<text x="273.3" y="269.4" class="sig">e</text>
<path d="M276.7 257V255M275.8 255H277.6" stroke="#222" stroke-width="0.55" fill="none"/>
<text x="276.7" y="254.1" class="sig">ab</text>
<path d="M280.1 259V252.7M279.2 252.7H281" stroke="#222" stroke-width="0.55" fill="none"/>
<text x="280.1" y="251.8" class="sig">d,e</text>
<line x1="276.7" y1="307.6" x2="276.7" y2="311.4" stroke="#222" stroke-width="0.8"/>
<text x="273.1" y="321.6" class="cat" textLength="7.2" lengthAdjust="spacingAndGlyphs">Pp</text>
<rect x="284.98" y="280.7" width="3.4" height="26.9" fill="#1b1b1b"/>
<rect x="288.38" y="278.2" width="3.4" height="29.4" fill="#222"/>
<rect x="289.03" y="278.85" width="2.1" height="28.75" fill="#8c8c8c"/>
<rect x="291.78" y="267.7" width="3.4" height="39.9" fill="#222"/>
<rect x="292.43" y="268.35" width="2.1" height="39.25" fill="#959595"/>
<path d="M286.68 280.7V273.9M285.78 273.9H287.58" stroke="#222" stroke-width="0.55" fill="none"/>
<text x="286.68" y="273" class="sig">ab</text>
<path d="M290.08 278.2V272.2M289.18 272.2H290.98" stroke="#222" stroke-width="0.55" fill="none"/>
<text x="290.08" y="271.3" class="sig">d,e</text>
<path d="M293.48 267.7V260.9M292.58 260.9H294.38" stroke="#222" stroke-width="0.55" fill="none"/>
<text x="293.48" y="260" class="sig">c</text>
<line x1="290.08" y1="307.6" x2="290.08" y2="311.4" stroke="#222" stroke-width="0.8"/>
<text x="287.44" y="321.6" class="cat" textLength="5.3" lengthAdjust="spacingAndGlyphs">Ef</text>
<rect x="298.37" y="284.5" width="3.4" height="23.1" fill="#1b1b1b"/>
<rect x="301.77" y="274" width="3.4" height="33.6" fill="#222"/>
<rect x="302.42" y="274.65" width="2.1" height="32.95" fill="#8c8c8c"/>
<rect x="305.17" y="269.7" width="3.4" height="37.9" fill="#222"/>
<rect x="305.82" y="270.35" width="2.1" height="37.25" fill="#959595"/>
<path d="M300.07 284.5V282.5M299.17 282.5H300.97" stroke="#222" stroke-width="0.55" fill="none"/>
<text x="300.07" y="281.6" class="sig">d,e</text>
<path d="M303.47 274V273M302.57 273H304.37" stroke="#222" stroke-width="0.55" fill="none"/>
<text x="303.47" y="272.1" class="sig">c</text>
<path d="M306.87 269.7V268.7M305.97 268.7H307.77" stroke="#222" stroke-width="0.55" fill="none"/>
<text x="306.87" y="267.8" class="sig">a,b</text>
<line x1="303.47" y1="307.6" x2="303.47" y2="311.4" stroke="#222" stroke-width="0.8"/>
<text x="299.87" y="321.6" class="cat" textLength="7.2" lengthAdjust="spacingAndGlyphs">Lp</text>
<rect x="311.75" y="287" width="3.4" height="20.6" fill="#1b1b1b"/>
<rect x="315.15" y="281.9" width="3.4" height="25.7" fill="#222"/>
<rect x="315.8" y="282.55" width="2.1" height="25.05" fill="#8c8c8c"/>
<rect x="318.56" y="276" width="3.4" height="31.6" fill="#222"/>
<rect x="319.2" y="276.65" width="2.1" height="30.95" fill="#959595"/>
<path d="M313.45 287V285.5M312.56 285.5H314.35" stroke="#222" stroke-width="0.55" fill="none"/>
<text x="313.45" y="284.6" class="sig">c</text>
<path d="M316.85 281.9V279.4M315.95 279.4H317.75" stroke="#222" stroke-width="0.55" fill="none"/>
<text x="316.85" y="278.5" class="sig">a,b</text>
<path d="M320.25 276V271M319.36 271H321.15" stroke="#222" stroke-width="0.55" fill="none"/>
<text x="320.25" y="270.1" class="sig">cd</text>
<line x1="316.86" y1="307.6" x2="316.86" y2="311.4" stroke="#222" stroke-width="0.8"/>
<text x="310.36" y="321.6" class="cat" textLength="13" lengthAdjust="spacingAndGlyphs">Multi</text>
<line x1="216" y1="196.2" x2="216" y2="307.6" stroke="#222" stroke-width="0.9"/>
<line x1="213" y1="307.6" x2="323.6" y2="307.6" stroke="#222" stroke-width="0.9"/>
<line x1="213.3" y1="307.6" x2="216" y2="307.6" stroke="#222" stroke-width="0.8"/>
<text x="209.7" y="310.2" class="tick" textLength="2.9" lengthAdjust="spacingAndGlyphs">0</text>
<line x1="214.6" y1="296.51" x2="216" y2="296.51" stroke="#222" stroke-width="0.7"/>
<line x1="213.3" y1="285.42" x2="216" y2="285.42" stroke="#222" stroke-width="0.8"/>
<text x="209.7" y="288.02" class="tick" textLength="2.9" lengthAdjust="spacingAndGlyphs">2</text>
<line x1="214.6" y1="274.33" x2="216" y2="274.33" stroke="#222" stroke-width="0.7"/>
<line x1="213.3" y1="263.24" x2="216" y2="263.24" stroke="#222" stroke-width="0.8"/>
<text x="209.7" y="265.84" class="tick" textLength="2.9" lengthAdjust="spacingAndGlyphs">4</text>
<line x1="214.6" y1="252.15" x2="216" y2="252.15" stroke="#222" stroke-width="0.7"/>
<line x1="213.3" y1="241.06" x2="216" y2="241.06" stroke="#222" stroke-width="0.8"/>
<text x="209.7" y="243.66" class="tick" textLength="2.9" lengthAdjust="spacingAndGlyphs">6</text>
<line x1="214.6" y1="229.97" x2="216" y2="229.97" stroke="#222" stroke-width="0.7"/>
<line x1="213.3" y1="218.88" x2="216" y2="218.88" stroke="#222" stroke-width="0.8"/>
<text x="209.7" y="221.48" class="tick" textLength="2.9" lengthAdjust="spacingAndGlyphs">8</text>
<line x1="214.6" y1="207.79" x2="216" y2="207.79" stroke="#222" stroke-width="0.7"/>
<line x1="213.3" y1="196.7" x2="216" y2="196.7" stroke="#222" stroke-width="0.8"/>
<text x="206.8" y="199.3" class="tick" textLength="5.8" lengthAdjust="spacingAndGlyphs">10</text>
<text x="254.5" y="340.5" class="treat" textLength="31" lengthAdjust="spacingAndGlyphs">Treatments</text>
<text transform="translate(203.7 311.3) rotate(-90)" x="0" y="0" class="ylab" style="font-size:6.0px" textLength="117.7" lengthAdjust="spacingAndGlyphs">Viable counts (Log10 cfu/g)</text>
<rect x="339.4" y="201.8" width="7.9" height="5.6" fill="#1b1b1b"/>
<text x="351.3" y="207.5" class="legcap" textLength="4" lengthAdjust="spacingAndGlyphs">G</text>
<text x="355.6" y="207.5" class="leg" textLength="15.7" lengthAdjust="spacing">izzard</text>
<rect x="339.4" y="216.7" width="7.9" height="5.4" fill="#1b1b1b"/>
<rect x="340.9" y="218.2" width="4.9" height="2.4" fill="#c4c4c4"/>
<path d="M353.1 216.1V222.3" stroke="#8a8a8a" stroke-width="0.55"/>
<text x="354.9" y="222.3" class="leg" textLength="10" lengthAdjust="spacing">eum</text>
<rect x="339.4" y="232" width="7.9" height="5.5" fill="#1b1b1b"/>
<rect x="340.9" y="233.5" width="4.9" height="2.5" fill="#a0a0a0"/>
<text x="352.3" y="237.65" class="leg" textLength="20" lengthAdjust="spacing">caecum</text>
<text x="381.8" y="178.2" class="tag" textLength="10.8" lengthAdjust="spacingAndGlyphs">(f)</text>
<text x="449.5" y="178.8" class="title" style="font-size:11.3px" textLength="14.25" lengthAdjust="spacingAndGlyphs">LAB</text>
<rect x="401.95" y="194" width="1.4" height="115.3" fill="#b4b4b4"/>
<rect x="402.95" y="220.75" width="3.4" height="88.55" fill="#1b1b1b"/>
<rect x="406.35" y="208.75" width="3.4" height="100.55" fill="#2a2a2a"/>
<line x1="408.5" y1="210.35" x2="408.5" y2="309.3" stroke="#b8b8b8" stroke-width="0.9" stroke-dasharray="1.3 1.7"/>
<rect x="409.75" y="210" width="3.4" height="99.3" fill="#222"/>
<rect x="410.4" y="210.65" width="2.1" height="98.65" fill="#959595"/>
<path d="M404.65 220.75V219.25M403.75 219.25H405.55" stroke="#222" stroke-width="0.55" fill="none"/>
<text x="404.65" y="218.35" class="sig">a,b</text>
<path d="M408.05 208.75V207.25M407.15 207.25H408.95" stroke="#222" stroke-width="0.55" fill="none"/>
<text x="408.05" y="206.35" class="sig">cd</text>
<path d="M411.45 210V208.5M410.55 208.5H412.35" stroke="#222" stroke-width="0.55" fill="none"/>
<text x="411.45" y="207.6" class="sig">a</text>
<line x1="408.05" y1="309.3" x2="408.05" y2="313.1" stroke="#222" stroke-width="0.8"/>
<text x="404.35" y="323.1" class="cat" textLength="7.4" lengthAdjust="spacingAndGlyphs">NC</text>
<rect x="416.7" y="227" width="3.4" height="82.3" fill="#1b1b1b"/>
<rect x="420.1" y="212.5" width="3.4" height="96.8" fill="#2a2a2a"/>
<line x1="421.5" y1="214.1" x2="421.5" y2="309.3" stroke="#b8b8b8" stroke-width="0.9" stroke-dasharray="1.3 1.7"/>
<rect x="423.5" y="211.25" width="3.4" height="98.05" fill="#222"/>
<rect x="424.15" y="211.9" width="2.1" height="97.4" fill="#959595"/>
<path d="M418.4 227V225.5M417.5 225.5H419.3" stroke="#222" stroke-width="0.55" fill="none"/>
<text x="418.4" y="224.6" class="sig">cd</text>
<path d="M421.8 212.5V210.5M420.9 210.5H422.7" stroke="#222" stroke-width="0.55" fill="none"/>
<text x="421.8" y="209.6" class="sig">a</text>
<path d="M425.2 211.25V205.85M424.3 205.85H426.1" stroke="#222" stroke-width="0.55" fill="none"/>
<text x="425.2" y="204.95" class="sig">b,c,d</text>
<line x1="421.8" y1="309.3" x2="421.8" y2="313.1" stroke="#222" stroke-width="0.8"/>
<text x="417.35" y="323.1" class="cat" textLength="8.9" lengthAdjust="spacingAndGlyphs">Ant</text>
<rect x="430.45" y="207.5" width="3.4" height="101.8" fill="#1b1b1b"/>
<rect x="433.85" y="207" width="3.4" height="102.3" fill="#2a2a2a"/>
<line x1="435.5" y1="208.6" x2="435.5" y2="309.3" stroke="#b8b8b8" stroke-width="0.9" stroke-dasharray="1.3 1.7"/>
<rect x="437.25" y="208.75" width="3.4" height="100.55" fill="#222"/>
<rect x="437.9" y="209.4" width="2.1" height="99.9" fill="#959595"/>
<path d="M432.15 207.5V204.5M431.25 204.5H433.05" stroke="#222" stroke-width="0.55" fill="none"/>
<text x="432.15" y="203.6" class="sig">a</text>
<path d="M435.55 207V205.5M434.65 205.5H436.45" stroke="#222" stroke-width="0.55" fill="none"/>
<text x="435.55" y="204.6" class="sig">b,c,d</text>
<path d="M438.95 208.75V205.75M438.05 205.75H439.85" stroke="#222" stroke-width="0.55" fill="none"/>
<text x="438.95" y="204.85" class="sig">e</text>
<line x1="435.55" y1="309.3" x2="435.55" y2="313.1" stroke="#222" stroke-width="0.8"/>
<text x="431.65" y="323.1" class="cat" textLength="7.8" lengthAdjust="spacingAndGlyphs">PC</text>
<rect x="444.2" y="223" width="3.4" height="86.3" fill="#1b1b1b"/>
<rect x="447.6" y="211.25" width="3.4" height="98.05" fill="#2a2a2a"/>
<line x1="449.5" y1="212.85" x2="449.5" y2="309.3" stroke="#b8b8b8" stroke-width="0.9" stroke-dasharray="1.3 1.7"/>
<rect x="451" y="202.5" width="3.4" height="106.8" fill="#222"/>
<rect x="451.65" y="203.15" width="2.1" height="106.15" fill="#959595"/>
<path d="M445.9 223V221.5M445 221.5H446.8" stroke="#222" stroke-width="0.55" fill="none"/>
<text x="445.9" y="220.6" class="sig">b,c,d</text>
<path d="M449.3 211.25V208.25M448.4 208.25H450.2" stroke="#222" stroke-width="0.55" fill="none"/>
<text x="449.3" y="207.35" class="sig">e</text>
<path d="M452.7 202.5V200.5M451.8 200.5H453.6" stroke="#222" stroke-width="0.55" fill="none"/>
<text x="452.7" y="199.6" class="sig">ab</text>
<line x1="449.3" y1="309.3" x2="449.3" y2="313.1" stroke="#222" stroke-width="0.8"/>
<text x="445.8" y="323.1" class="cat" textLength="7" lengthAdjust="spacingAndGlyphs">Pa</text>
<rect x="457.95" y="218" width="3.4" height="91.3" fill="#1b1b1b"/>
<rect x="461.35" y="211.25" width="3.4" height="98.05" fill="#2a2a2a"/>
<line x1="463.5" y1="212.85" x2="463.5" y2="309.3" stroke="#b8b8b8" stroke-width="0.9" stroke-dasharray="1.3 1.7"/>
<rect x="464.75" y="209.25" width="3.4" height="100.05" fill="#222"/>
<rect x="465.4" y="209.9" width="2.1" height="99.4" fill="#959595"/>
<path d="M459.65 218V216.5M458.75 216.5H460.55" stroke="#222" stroke-width="0.55" fill="none"/>
<text x="459.65" y="215.6" class="sig">e</text>
<path d="M463.05 211.25V209.25M462.15 209.25H463.95" stroke="#222" stroke-width="0.55" fill="none"/>
<text x="463.05" y="208.35" class="sig">ab</text>
<path d="M466.45 209.25V207.25M465.55 207.25H467.35" stroke="#222" stroke-width="0.55" fill="none"/>
<text x="466.45" y="206.35" class="sig">d,e</text>
<line x1="463.05" y1="309.3" x2="463.05" y2="313.1" stroke="#222" stroke-width="0.8"/>
<text x="459.45" y="323.1" class="cat" textLength="7.2" lengthAdjust="spacingAndGlyphs">Pp</text>
<rect x="471.7" y="218" width="3.4" height="91.3" fill="#1b1b1b"/>
<rect x="475.1" y="207" width="3.4" height="102.3" fill="#2a2a2a"/>
<line x1="476.5" y1="208.6" x2="476.5" y2="309.3" stroke="#b8b8b8" stroke-width="0.9" stroke-dasharray="1.3 1.7"/>
<rect x="478.5" y="196.75" width="3.4" height="112.55" fill="#222"/>
<rect x="479.15" y="197.4" width="2.1" height="111.9" fill="#959595"/>
<path d="M473.4 218V216.5M472.5 216.5H474.3" stroke="#222" stroke-width="0.55" fill="none"/>
<text x="473.4" y="215.6" class="sig">ab</text>
<path d="M476.8 207V205M475.9 205H477.7" stroke="#222" stroke-width="0.55" fill="none"/>
<text x="476.8" y="204.1" class="sig">d,e</text>
<path d="M480.2 196.75V194.75M479.3 194.75H481.1" stroke="#222" stroke-width="0.55" fill="none"/>
<text x="480.2" y="193.85" class="sig">c</text>
<line x1="476.8" y1="309.3" x2="476.8" y2="313.1" stroke="#222" stroke-width="0.8"/>
<text x="474.15" y="323.1" class="cat" textLength="5.3" lengthAdjust="spacingAndGlyphs">Ef</text>
<rect x="485.45" y="218" width="3.4" height="91.3" fill="#1b1b1b"/>
<rect x="488.85" y="211.25" width="3.4" height="98.05" fill="#2a2a2a"/>
<line x1="490.5" y1="212.85" x2="490.5" y2="309.3" stroke="#b8b8b8" stroke-width="0.9" stroke-dasharray="1.3 1.7"/>
<rect x="492.25" y="200" width="3.4" height="109.3" fill="#222"/>
<rect x="492.9" y="200.65" width="2.1" height="108.65" fill="#959595"/>
<path d="M487.15 218V216.5M486.25 216.5H488.05" stroke="#222" stroke-width="0.55" fill="none"/>
<text x="487.15" y="215.6" class="sig">d,e</text>
<path d="M490.55 211.25V207.75M489.65 207.75H491.45" stroke="#222" stroke-width="0.55" fill="none"/>
<text x="490.55" y="206.85" class="sig">c</text>
<path d="M493.95 200V196.2M493.05 196.2H494.85" stroke="#222" stroke-width="0.55" fill="none"/>
<text x="493.95" y="195.3" class="sig">a,b</text>
<line x1="490.55" y1="309.3" x2="490.55" y2="313.1" stroke="#222" stroke-width="0.8"/>
<text x="486.95" y="323.1" class="cat" textLength="7.2" lengthAdjust="spacingAndGlyphs">Lp</text>
<rect x="499.2" y="211.25" width="3.4" height="98.05" fill="#1b1b1b"/>
<rect x="502.6" y="195.5" width="3.4" height="113.8" fill="#2a2a2a"/>
<line x1="504.5" y1="197.1" x2="504.5" y2="309.3" stroke="#b8b8b8" stroke-width="0.9" stroke-dasharray="1.3 1.7"/>
<rect x="506" y="196.25" width="3.4" height="113.05" fill="#222"/>
<rect x="506.65" y="196.9" width="2.1" height="112.4" fill="#959595"/>
<path d="M500.9 211.25V209.25M500 209.25H501.8" stroke="#222" stroke-width="0.55" fill="none"/>
<text x="500.9" y="208.35" class="sig">c</text>
<path d="M504.3 195.5V194M503.4 194H505.2" stroke="#222" stroke-width="0.55" fill="none"/>
<text x="504.3" y="193.1" class="sig">a,b</text>
<path d="M507.7 196.25V193.45M506.8 193.45H508.6" stroke="#222" stroke-width="0.55" fill="none"/>
<text x="507.7" y="192.55" class="sig">cd</text>
<line x1="504.3" y1="309.3" x2="504.3" y2="313.1" stroke="#222" stroke-width="0.8"/>
<text x="497.8" y="323.1" class="cat" textLength="13" lengthAdjust="spacingAndGlyphs">Multi</text>
<line x1="401.5" y1="193.5" x2="401.5" y2="309.3" stroke="#222" stroke-width="0.9"/>
<line x1="398.5" y1="309.3" x2="511.6" y2="309.3" stroke="#222" stroke-width="0.9"/>
<line x1="398.8" y1="309.3" x2="401.5" y2="309.3" stroke="#222" stroke-width="0.8"/>
<text x="395.2" y="311.9" class="tick" textLength="2.9" lengthAdjust="spacingAndGlyphs">0</text>
<line x1="400.1" y1="297.77" x2="401.5" y2="297.77" stroke="#222" stroke-width="0.7"/>
<line x1="398.8" y1="286.24" x2="401.5" y2="286.24" stroke="#222" stroke-width="0.8"/>
<text x="395.2" y="288.84" class="tick" textLength="2.9" lengthAdjust="spacingAndGlyphs">2</text>
<line x1="400.1" y1="274.71" x2="401.5" y2="274.71" stroke="#222" stroke-width="0.7"/>
<line x1="398.8" y1="263.18" x2="401.5" y2="263.18" stroke="#222" stroke-width="0.8"/>
<text x="395.2" y="265.78" class="tick" textLength="2.9" lengthAdjust="spacingAndGlyphs">4</text>
<line x1="400.1" y1="251.65" x2="401.5" y2="251.65" stroke="#222" stroke-width="0.7"/>
<line x1="398.8" y1="240.12" x2="401.5" y2="240.12" stroke="#222" stroke-width="0.8"/>
<text x="395.2" y="242.72" class="tick" textLength="2.9" lengthAdjust="spacingAndGlyphs">6</text>
<line x1="400.1" y1="228.59" x2="401.5" y2="228.59" stroke="#222" stroke-width="0.7"/>
<line x1="398.8" y1="217.06" x2="401.5" y2="217.06" stroke="#222" stroke-width="0.8"/>
<text x="395.2" y="219.66" class="tick" textLength="2.9" lengthAdjust="spacingAndGlyphs">8</text>
<line x1="400.1" y1="205.53" x2="401.5" y2="205.53" stroke="#222" stroke-width="0.7"/>
<line x1="398.8" y1="194" x2="401.5" y2="194" stroke="#222" stroke-width="0.8"/>
<text x="392.3" y="196.6" class="tick" textLength="5.8" lengthAdjust="spacingAndGlyphs">10</text>
<text x="440.75" y="340.5" class="treat" textLength="31.75" lengthAdjust="spacingAndGlyphs">Treatments</text>
<text transform="translate(388.2 312.1) rotate(-90)" x="0" y="0" class="ylab" style="font-size:6.0px" textLength="122" lengthAdjust="spacingAndGlyphs">Viable counts (Log10 cfu/g)</text>
<rect x="528.4" y="199.1" width="7.1" height="5.1" fill="#1b1b1b"/>
<text x="539.9" y="204.55" class="legcap" textLength="4" lengthAdjust="spacingAndGlyphs">G</text>
<text x="544.2" y="204.55" class="leg" textLength="15.7" lengthAdjust="spacing">izzard</text>
<rect x="528.4" y="215.7" width="7.1" height="5.1" fill="#1b1b1b"/>
<rect x="529.9" y="217.2" width="4.1" height="2.1" fill="#c4c4c4"/>
<path d="M541.7 214.95V221.15" stroke="#8a8a8a" stroke-width="0.55"/>
<text x="543.5" y="221.15" class="leg" textLength="10" lengthAdjust="spacing">eum</text>
<rect x="528.4" y="231" width="7.1" height="5" fill="#1b1b1b"/>
<rect x="529.9" y="232.5" width="4.1" height="2" fill="#a0a0a0"/>
<text x="540.9" y="236.4" class="leg" textLength="20" lengthAdjust="spacing">caecum</text>
</g>
</svg>
</body></html>
